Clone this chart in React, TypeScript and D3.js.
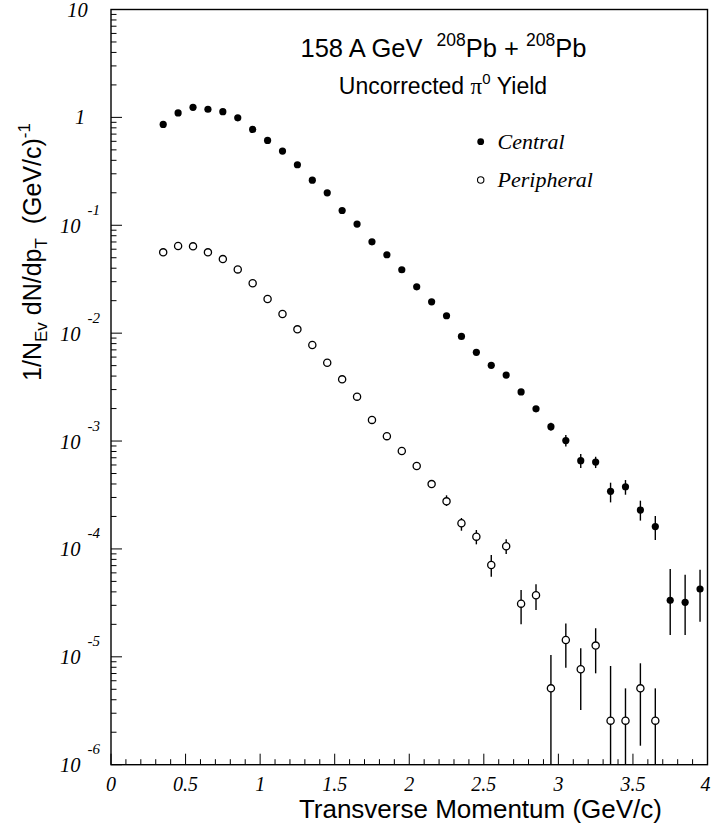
import React from "react";
import * as d3 from "d3";

// pT bin centres (GeV/c)
const centralPt = [
  0.35, 0.45, 0.55, 0.65, 0.75, 0.85, 0.95, 1.05, 1.15, 1.25, 1.35, 1.45, 1.55,
  1.65, 1.75, 1.85, 1.95, 2.05, 2.15, 2.25, 2.35, 2.45, 2.55, 2.65, 2.75, 2.85,
  2.95, 3.05, 3.15, 3.25, 3.35, 3.45, 3.55, 3.65, 3.75, 3.85, 3.95,
];
const centralYield = [
  0.86, 1.1, 1.24, 1.19, 1.13, 0.99, 0.774, 0.612, 0.487, 0.364, 0.262, 0.2,
  0.137, 0.1026, 0.0703, 0.0533, 0.0387, 0.0269, 0.0195, 0.0145, 0.00933,
  0.00664, 0.00503, 0.00409, 0.00285, 0.00199, 0.00136, 0.00101, 0.000657,
  0.000639, 0.000342, 0.000377, 0.000229, 0.000161, 3.34e-5, 3.2e-5, 4.25e-5,
];
// error band edges (null = error smaller than the marker)
const centralErrLo = [
  null, null, null, null, null, null, null, null, null, null, null, null, null,
  null, null, null, null, null, null, null, null, null, null, null, null, null,
  1.246e-3, 8.91e-4, 5.62e-4, 5.62e-4, 2.7e-4, 3.18e-4, 1.83e-4, 1.21e-4,
  1.59e-5, 1.59e-5, 2.11e-5,
];
const centralErrHi = [
  null, null, null, null, null, null, null, null, null, null, null, null, null,
  null, null, null, null, null, null, null, null, null, null, null, null, null,
  1.478e-3, 1.137e-3, 7.58e-4, 7.15e-4, 4.11e-4, 4.35e-4, 2.8e-4, 2.02e-4,
  6.51e-5, 5.77e-5, 6.41e-5,
];

const peripheralPt = [
  0.35, 0.45, 0.55, 0.65, 0.75, 0.85, 0.95, 1.05, 1.15, 1.25, 1.35, 1.45, 1.55,
  1.65, 1.75, 1.85, 1.95, 2.05, 2.15, 2.25, 2.35, 2.45, 2.55, 2.65, 2.75, 2.85,
  2.95, 3.05, 3.15, 3.25, 3.35, 3.45, 3.55, 3.65,
];
const peripheralYield = [
  0.0561, 0.0642, 0.0638, 0.0561, 0.0486, 0.039, 0.029, 0.0207, 0.01503,
  0.01085, 0.00776, 0.00532, 0.00373, 0.00258, 0.00157, 0.00111, 0.000808,
  0.000587, 0.000399, 0.000276, 0.000173, 0.00013, 7.09e-5, 0.000106, 3.11e-5,
  3.72e-5, 5.1e-6, 1.43e-5, 7.66e-6, 1.27e-5, 2.56e-6, 2.56e-6, 5.1e-6, 2.56e-6,
];
const peripheralErrLo = [
  null, null, null, null, null, null, null, null, null, null, null, null, null,
  null, null, null, null, null, null, 2.5e-4, 1.475e-4, 1.103e-4, 5.53e-5,
  8.97e-5, 2.0e-5, 2.71e-5, 0, 7.93e-6, 3.21e-6, 7.03e-6, 0, 0, 1.5e-6, 0,
];
const peripheralErrHi = [
  null, null, null, null, null, null, null, null, null, null, null, null, null,
  null, null, null, null, null, null, 3.14e-4, 1.934e-4, 1.497e-4, 8.78e-5,
  1.227e-4, 4.16e-5, 4.7e-5, 1.04e-5, 2.04e-5, 1.2e-5, 1.84e-5, 8.22e-6,
  5.1e-6, 8.71e-6, 5.1e-6,
];

const xTickLabels = ["0", "0.5", "1", "1.5", "2", "2.5", "3", "3.5", "4"];
const yDecades = [-6, -5, -4, -3, -2, -1, 0, 1];

const W = 711;
const H = 833;
const frame = { left: 111, right: 707.5, top: 9.5, bottom: 764.7 };

const sans = "'Liberation Sans', Arial, Helvetica, sans-serif";
const serif = "'Liberation Serif', 'Times New Roman', serif";

export default function App() {
  const x = d3.scaleLinear().domain([0, 4]).range([frame.left, frame.right]);
  const y = d3
    .scaleLog()
    .domain([1e-6, 10])
    .range([frame.bottom, frame.top]);

  const yClamp = (v: number) => (v <= 1e-6 ? frame.bottom : y(v));

  const xMinor = x.ticks(40);
  const xMajor = x.ticks(8);
  const yAll = y.ticks();

  const isDecade = (v: number) =>
    Math.abs(Math.log10(v) - Math.round(Math.log10(v))) < 1e-9;

  return (
    <svg
      width={W}
      height={H}
      style={{ position: "absolute", left: 0, top: 0, background: "#fff" }}
    >
      {/* frame */}
      <rect
        x={frame.left}
        y={frame.top}
        width={frame.right - frame.left}
        height={frame.bottom - frame.top}
        fill="none"
        stroke="#000"
        strokeWidth={1.4}
      />

      {/* x ticks */}
      {xMinor.map((t, i) => {
        const major = xMajor.some((m) => Math.abs(m - t) < 1e-9);
        return (
          <line
            key={"xt" + i}
            x1={x(t)}
            x2={x(t)}
            y1={frame.bottom}
            y2={frame.bottom - (major ? 11 : 5.5)}
            stroke="#000"
            strokeWidth={1}
          />
        );
      })}
      {xMajor.map((t, i) => (
        <text
          key={"xl" + i}
          x={i === xMajor.length - 1 ? x(t) - 2 : x(t)}
          y={791}
          textAnchor="middle"
          fontFamily={serif}
          fontStyle="italic"
          fontSize={20}
        >
          {xTickLabels[i]}
        </text>
      ))}

      {/* y ticks */}
      {yAll.map((t, i) => (
        <line
          key={"yt" + i}
          x1={frame.left}
          x2={frame.left + (isDecade(t) ? 11 : 5.5)}
          y1={y(t)}
          y2={y(t)}
          stroke="#000"
          strokeWidth={1}
        />
      ))}
      {yDecades.map((d) => {
        const ty = y(Math.pow(10, d));
        if (d === 0)
          return (
            <text
              key="yl0"
              x={80}
              y={ty + 7}
              textAnchor="middle"
              fontFamily={serif}
              fontStyle="italic"
              fontSize={20.5}
            >
              1
            </text>
          );
        if (d === 1)
          return (
            <text
              key="yl1"
              x={77.5}
              y={ty + 7.2}
              textAnchor="middle"
              fontFamily={serif}
              fontStyle="italic"
              fontSize={20.5}
            >
              10
            </text>
          );
        return (
          <g key={"yl" + d} fontFamily={serif} fontStyle="italic">
            <text x={80.5} y={ty + 7.5} textAnchor="end" fontSize={20.5}>
              10
            </text>
            <text x={87.5} y={ty - 10.5} fontSize={15}>
              {String(d)}
            </text>
          </g>
        );
      })}

      {/* central error bars */}
      {centralPt.map((p, i) =>
        centralErrHi[i] == null ? null : (
          <line
            key={"ce" + i}
            x1={x(p)}
            x2={x(p)}
            y1={yClamp(centralErrLo[i] as number)}
            y2={yClamp(centralErrHi[i] as number)}
            stroke="#000"
            strokeWidth={1.4}
          />
        )
      )}
      {/* peripheral error bars */}
      {peripheralPt.map((p, i) =>
        peripheralErrHi[i] == null ? null : (
          <line
            key={"pe" + i}
            x1={x(p)}
            x2={x(p)}
            y1={yClamp(peripheralErrLo[i] as number)}
            y2={yClamp(peripheralErrHi[i] as number)}
            stroke="#000"
            strokeWidth={1.4}
          />
        )
      )}

      {/* central: filled markers */}
      {centralPt.map((p, i) => (
        <circle
          key={"c" + i}
          cx={x(p)}
          cy={y(centralYield[i])}
          r={3.6}
          fill="#000"
        />
      ))}
      {/* peripheral: open markers */}
      {peripheralPt.map((p, i) => (
        <circle
          key={"p" + i}
          cx={x(p)}
          cy={y(peripheralYield[i])}
          r={3.6}
          fill="#fff"
          stroke="#000"
          strokeWidth={1.3}
        />
      ))}

      {/* header */}
      <text
        x={443.5}
        y={57}
        textAnchor="middle"
        fontFamily={sans}
        fontSize={25.5}
        style={{ whiteSpace: "pre" }}
      >
        {"158 A GeV  "}
        <tspan fontSize={17.5} dy={-11}>
          208
        </tspan>
        <tspan dy={11}>{"Pb + "}</tspan>
        <tspan fontSize={17.5} dy={-11}>
          208
        </tspan>
        <tspan dy={11}>Pb</tspan>
      </text>
      <text
        x={443}
        y={94}
        textAnchor="middle"
        fontFamily={sans}
        fontSize={23}
        style={{ whiteSpace: "pre" }}
      >
        {"Uncorrected "}
        <tspan fontFamily={serif}>π</tspan>
        <tspan fontSize={15} dy={-10}>
          0
        </tspan>
        <tspan dy={10}>{" Yield"}</tspan>
      </text>

      {/* legend */}
      <circle cx={480.7} cy={141.7} r={3.4} fill="#000" />
      <text
        x={497.5}
        y={149}
        fontFamily={serif}
        fontStyle="italic"
        fontSize={22}
      >
        Central
      </text>
      <circle
        cx={480.7}
        cy={180}
        r={3.2}
        fill="#fff"
        stroke="#000"
        strokeWidth={1.1}
      />
      <text
        x={497.5}
        y={187}
        fontFamily={serif}
        fontStyle="italic"
        fontSize={22}
      >
        Peripheral
      </text>

      {/* axis titles */}
      <text
        x={662}
        y={818}
        textAnchor="end"
        fontFamily={sans}
        fontSize={26}
      >
        Transverse Momentum (GeV/c)
      </text>
      <text
        transform="translate(41,252) rotate(-90)"
        textAnchor="middle"
        fontFamily={sans}
        fontSize={25}
        style={{ whiteSpace: "pre" }}
      >
        {"1/N"}
        <tspan fontSize={17} dy={6}>
          Ev
        </tspan>
        <tspan dy={-6}>{" dN/dp"}</tspan>
        <tspan fontSize={17} dy={6}>
          T
        </tspan>
        <tspan dy={-6}>{"  (GeV/c)"}</tspan>
        <tspan fontSize={17} dy={-11}>
          -1
        </tspan>
      </text>
    </svg>
  );
}
